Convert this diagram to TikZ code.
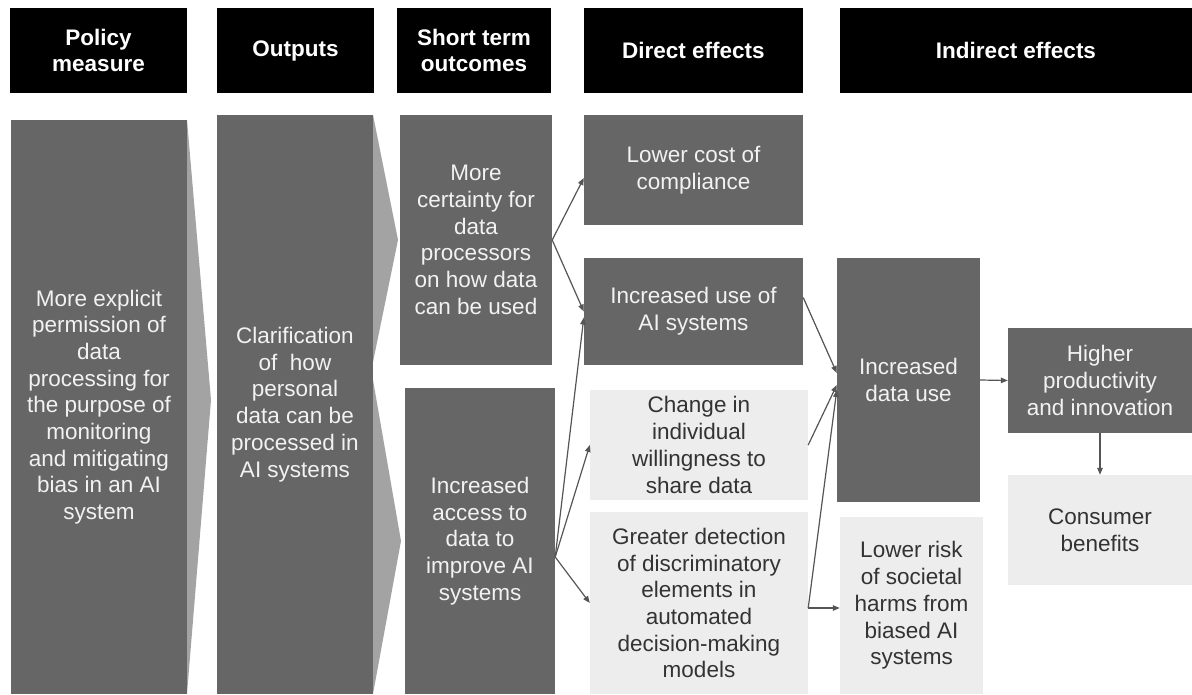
\documentclass[tikz,border=0pt]{standalone}
\usepackage{fontspec}
\setmainfont{Liberation Sans}
\usetikzlibrary{arrows.meta}
\definecolor{boxdark}{HTML}{666666}
\definecolor{boxlight}{HTML}{EDEDED}
\definecolor{chev}{HTML}{A3A3A3}
\definecolor{linkc}{HTML}{555555}
\definecolor{txtlight}{HTML}{F2F2F2}
\definecolor{txtdark}{HTML}{333333}
\tikzset{
  base/.style={rectangle, inner sep=0pt, align=center,
    font=\fontsize{22.5}{26.7}\selectfont},
  headbox/.style={base, fill=black, text=white, font=\fontsize{22.5}{26.7}\selectfont\bfseries},
  darkbox/.style={base, fill=boxdark, text=txtlight},
  lightbox/.style={base, fill=boxlight, text=txtdark},
  conn/.style={draw=linkc, line width=1.2pt, -{Triangle[length=7pt,width=5.5pt]}},
  plain/.style={draw=linkc, line width=1.2pt},
}
\begin{document}
\begin{tikzpicture}[x=1pt, y=-1pt]
\fill[white] (0,0) rectangle (1192,694);
\useasboundingbox (0,0) rectangle (1192,694);

% column headers
\node[headbox, minimum width=177pt, minimum height=85pt] (hpol) at (98.5,50.5) {Policy\\measure};
\node[headbox, minimum width=157pt, minimum height=85pt] (hout) at (295.5,50.5) {Outputs};
\node[headbox, minimum width=154pt, minimum height=85pt] (hst) at (474,50.5) {Short term\\outcomes};
\node[headbox, minimum width=219pt, minimum height=85pt] (hdir) at (693.5,50.5) {Direct effects};
\node[headbox, minimum width=352pt, minimum height=85pt] (hind) at (1016,50.5) {Indirect effects};

% chevrons between the first columns
\fill[chev] (187,120) -- (211,400) -- (187,694) -- cycle;
\fill[chev] (373,115) -- (398,240) -- (373,362) -- cycle;
\fill[chev] (373,380) -- (401,541) -- (373,694) -- cycle;

% policy measure and outputs
\node[darkbox, minimum width=176pt, minimum height=574pt] (policy) at (99,407)
  {More explicit\\permission of\\data\\processing for\\the purpose of\\monitoring\\and mitigating\\bias in an AI\\system};
\node[darkbox, minimum width=156pt, minimum height=579pt] (outputs) at (295,404.5)
  {Clarification\\of~~how\\personal\\data can be\\processed in\\AI systems};

% short term outcomes
\node[darkbox, minimum width=152pt, minimum height=250pt] (st1) at (476,240)
  {More\\certainty for\\data\\processors\\on how data\\can be used};
\node[darkbox, minimum width=150pt, minimum height=306pt] (st2) at (480,541)
  {Increased\\access to\\data to\\improve AI\\systems};

% direct effects
\node[darkbox, minimum width=219pt, minimum height=110pt] (lowcost) at (693.5,170)
  {Lower cost of\\compliance};
\node[darkbox, minimum width=219pt, minimum height=107pt] (incuse) at (693.5,311.5)
  {Increased use of\\AI systems};
\node[lightbox, minimum width=218pt, minimum height=110pt] (change) at (699,445)
  {Change in\\individual\\willingness to\\share data};
\node[lightbox, minimum width=218pt, minimum height=182pt] (greater) at (699,603)
  {Greater detection\\of discriminatory\\elements in\\automated\\decision-making\\models};

% indirect effects
\node[darkbox, minimum width=143pt, minimum height=244pt] (datause) at (908.5,380)
  {Increased\\data use};
\node[lightbox, minimum width=143pt, minimum height=177pt] (lowrisk) at (911.5,605.5)
  {Lower risk\\of societal\\harms from\\biased AI\\systems};
\node[darkbox, minimum width=184pt, minimum height=105pt] (higher) at (1100,380.5)
  {Higher\\productivity\\and innovation};
\node[lightbox, minimum width=184pt, minimum height=110pt] (consumer) at (1100,530)
  {Consumer\\benefits};

% connectors
\coordinate (fanA) at (st1.east);
\coordinate (fanB) at ([yshift=-16pt]st2.east);
\coordinate (gd) at ([yshift=-5pt]greater.east);

\draw[conn] (fanA) -- ([yshift=-8pt]lowcost.west);
\draw[conn] (fanA) -- (incuse.west);
\draw[conn] (fanB) -- ([yshift=-6pt]incuse.west);
\draw[conn] (fanB) -- (change.west);
\draw[conn] (fanB) -- (greater.west);

\draw[conn] ([yshift=14pt]incuse.east) -- ([yshift=7pt]datause.west);
\draw[conn] (change.east) -- ([yshift=-5pt]datause.west);
\draw[conn] (gd) -- ([yshift=-10pt]datause.west);
\draw[conn] (gd) -- (lowrisk.west |- gd);

\draw[conn] (datause.east) -- (higher.west);
\draw[conn] (higher.south) -- (consumer.north);
\end{tikzpicture}
\end{document}
